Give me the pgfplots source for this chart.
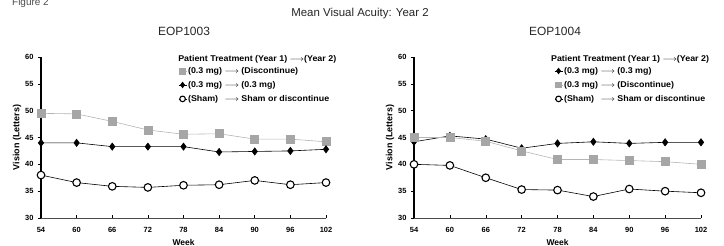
\documentclass[border=0pt]{standalone}
\usepackage{pgfplots}
\pgfplotsset{compat=1.18}
\usepackage{fontspec}
\usepackage{calc}
\usepackage{graphicx}
\setmainfont{Liberation Sans}
\definecolor{sqgray}{HTML}{A6A6A6}
\definecolor{lngray}{HTML}{B4B4B4}
\newcommand{\legfont}{\bfseries\fontsize{8.4}{9}\selectfont}
\newcommand{\wide}[1]{\scalebox{1.06}[1]{#1}}
\newcommand{\shamlab}{\makebox[\widthof{\legfont(0.3 mg) }][l]{(Sham)}}
\pgfplotsset{
  mystyle/.style={
    scale only axis, height=161bp, clip=false,
    xmin=54, xmax=102, ymin=30, ymax=60,
    xtick={54,60,...,102}, ytick={30,35,...,60},
    axis x line*=bottom, axis y line*=left,
    x axis line style={-, line width=0.5pt, black!70},
    y axis line style={-, line width=1.1pt, black},
    tick align=outside, major tick length=3bp,
    x tick style={yshift=3bp, black, line width=0.5pt},
    y tick style={black, line width=0.5pt},
    /pgf/number format/assume math mode=true,
    tick label style={font=\bfseries\fontsize{7.5}{8}\selectfont},
    xticklabel style={yshift=-2.5bp},
    yticklabel style={xshift=-1bp},
    ylabel={Vision (Letters)}, xlabel={Week},
    ylabel style={font=\bfseries\fontsize{9}{10}\selectfont, yshift=-3bp},
    xlabel style={font=\bfseries\fontsize{8.5}{10}\selectfont, yshift=0bp},
    legend cell align=left,
    legend style={draw=none, fill=none, font=\legfont, inner sep=0pt,
      row sep=4pt, nodes={inner sep=1.2pt}},
    legend image code/.code={\draw[mark repeat=2,mark phase=2,##1] plot coordinates {(0bp,0bp) (4bp,0bp) (8bp,0bp)};},
    legend image post style={mark size=2.8bp},
  },
  sq/.style={color=lngray, line width=0.6pt, mark=square*, mark size=4bp, mark options={fill=sqgray, draw=sqgray}},
  di/.style={color=black, line width=0.6pt, mark=diamond*, mark size=3.6bp, mark options={fill=black}},
  ci/.style={color=black, line width=0.6pt, mark=*, mark size=3.8bp, mark options={fill=white, draw=black, line width=1.1pt}},
}
\begin{document}
\begin{tikzpicture}
\useasboundingbox (0,0) rectangle (724bp,246bp);
\node[anchor=base west, font=\fontsize{10}{12}\selectfont, text=black!70, inner sep=0pt] at (12bp,240bp) {Figure 2};
\node[font=\fontsize{11.5}{13}\selectfont, text=black!85] at (360bp,232bp) {Mean Visual Acuity: Year 2};
\node[font=\fontsize{12}{14}\selectfont, text=black!85] at (184bp,215bp) {EOP1003};
\node[font=\fontsize{12}{14}\selectfont, text=black!85] at (555bp,215bp) {EOP1004};

\begin{axis}[mystyle, width=285bp, at={(41bp,28bp)}, anchor=south west,
  legend style={at={(rel axis cs:0.481,0.945)}, anchor=north west}]
\node[anchor=west, font=\legfont, inner sep=0pt] at (rel axis cs:0.481,0.985) {\wide{Patient Treatment (Year 1) $\longrightarrow$(Year 2)}};
\addplot[sq] coordinates {(54,49.5) (60,49.4) (66,48.0) (72,46.4) (78,45.6) (84,45.7) (90,44.7) (96,44.7) (102,44.2)};
\addlegendentry{\wide{(0.3 mg) $\longrightarrow$ (Discontinue)}}
\addplot[di] coordinates {(54,44.0) (60,44.0) (66,43.3) (72,43.3) (78,43.3) (84,42.3) (90,42.4) (96,42.5) (102,42.8)};
\addlegendentry{\wide{(0.3 mg) $\longrightarrow$ (0.3 mg)}}
\addplot[ci] coordinates {(54,38.0) (60,36.6) (66,35.9) (72,35.7) (78,36.1) (84,36.2) (90,37.0) (96,36.2) (102,36.6)};
\addlegendentry{\wide{\shamlab$\longrightarrow$ Sham or discontinue}}
\end{axis}

\begin{axis}[mystyle, width=287bp, at={(414bp,28bp)}, anchor=south west,
  legend style={at={(rel axis cs:0.488,0.945)}, anchor=north west}]
\node[anchor=west, font=\legfont, inner sep=0pt] at (rel axis cs:0.477,0.985) {\wide{Patient Treatment (Year 1) $\longrightarrow$(Year 2)}};
\addplot[di] coordinates {(54,44.2) (60,45.3) (66,44.7) (72,43.0) (78,43.9) (84,44.2) (90,43.9) (96,44.1) (102,44.1)};
\addlegendentry{\wide{(0.3 mg) $\longrightarrow$ (0.3 mg)}}
\addplot[sq] coordinates {(54,45.0) (60,45.0) (66,44.3) (72,42.5) (78,40.9) (84,40.9) (90,40.7) (96,40.5) (102,40.0)};
\addlegendentry{\wide{(0.3 mg) $\longrightarrow$ (Discontinue)}}
\addplot[ci] coordinates {(54,40.0) (60,39.8) (66,37.5) (72,35.3) (78,35.2) (84,34.0) (90,35.4) (96,35.0) (102,34.7)};
\addlegendentry{\wide{\shamlab$\longrightarrow$ Sham or discontinue}}
\end{axis}
\end{tikzpicture}
\end{document}
